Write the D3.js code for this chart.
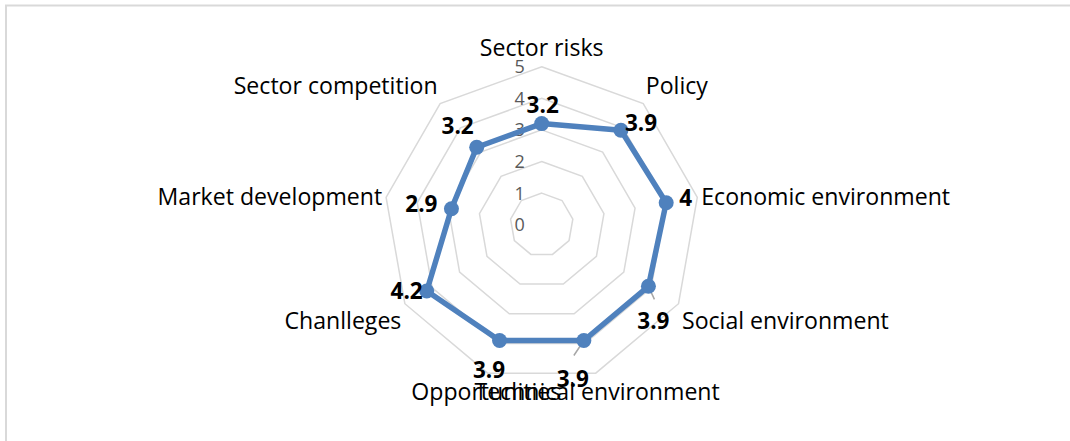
<!DOCTYPE html>
<html>
<head>
<meta charset="utf-8">
<script src="https://cdn.jsdelivr.net/npm/d3@7/dist/d3.min.js"></script>
<style>
  html, body { margin: 0; padding: 0; background: #fff; }
  svg { display: block; }
</style>
</head>
<body>
<svg id="chart" width="1070" height="441"></svg>
<script>
// ---- data ----
const categories = ["Sector risks", "Policy", "Economic environment", "Social environment",
  "Technical environment", "Opportunities", "Chanlleges", "Market development", "Sector competition"];
const values = [3.2, 3.9, 4, 3.9, 3.9, 3.9, 4.2, 2.9, 3.2];
const valueLabels = ["3.2", "3.9", "4", "3.9", "3.9", "3.9", "4.2", "2.9", "3.2"];
const tickValues = [0, 1, 2, 3, 4, 5];
const tickLabels = ["0", "1", "2", "3", "4", "5"];

// ---- layout (not data) ----
// data label placement relative to its point: [dx, dy, anchor]
const labelPlacement = [
  [1, -19, "middle"], [4, -7, "start"], [13, -5, "start"], [5, 35, "middle"],
  [-11, 38, "middle"], [-10.5, 29.5, "middle"], [-4, 0, "end"], [-14, -5, "end"], [-3, -21.5, "end"]
];
// leader lines for labels placed far from their point: [index, x1off, y1off, x2off, y2off]
const leaders = [[3, 0, 0, 6, 13], [4, 0, 0, -10, 15]];

const svg = d3.select("#chart");
const cx = 541.7, cy = 224.7, R = 158;
const font = "'Open Sans', 'Noto Sans', sans-serif";

// border (top and left edges visible)
svg.append("line").attr("x1", 5).attr("x2", 1070).attr("y1", 5.5).attr("y2", 5.5)
  .attr("stroke", "#d9d9d9").attr("stroke-width", 2);
svg.append("line").attr("x1", 6).attr("x2", 6).attr("y1", 5).attr("y2", 441)
  .attr("stroke", "#d9d9d9").attr("stroke-width", 2);

const n = categories.length;
const angle = d3.scaleLinear().domain([0, n]).range([0, 2 * Math.PI]);
const r = d3.scaleLinear().domain([0, 5]).range([0, R]);
const px = (i, v) => cx + r(v) * Math.sin(angle(i));
const py = (i, v) => cy - r(v) * Math.cos(angle(i));

const g = svg.append("g");

// rings
const ringLine = d3.line().curve(d3.curveLinearClosed);
g.selectAll("path.ring").data(tickValues.filter(t => t > 0)).join("path")
  .attr("class", "ring")
  .attr("d", t => ringLine(d3.range(n).map(i => [px(i, t), py(i, t)])))
  .attr("fill", "none").attr("stroke", "#d9d9d9").attr("stroke-width", 1.5);

// tick labels
g.selectAll("text.tick").data(tickValues).join("text")
  .attr("class", "tick")
  .attr("x", cx - 22).attr("y", t => cy - r(t))
  .attr("dy", "0.36em")
  .attr("text-anchor", "middle")
  .attr("font-family", font).attr("font-size", 18).attr("fill", "#595959")
  .text((t, i) => tickLabels[i]);

// category labels
const catR = R + 4;
g.selectAll("text.cat").data(categories).join("text")
  .attr("class", "cat")
  .each(function (d, i) {
    const a = angle(i), s = Math.sin(a), c = Math.cos(a);
    const x = cx + catR * s, y = cy - catR * c;
    let anchor = Math.abs(s) < 0.5 ? "middle" : (s > 0 ? "start" : "end");
    let yc = c > 0.5 ? y - 15 : (c < -0.3 ? y + 15 : y);
    d3.select(this).attr("x", x).attr("y", yc).attr("dy", "0.36em")
      .attr("text-anchor", anchor);
  })
  .attr("font-family", font).attr("font-size", 23.1).attr("fill", "#000")
  .text(d => d);

// data polygon
const pts = values.map((v, i) => [px(i, v), py(i, v)]);
g.append("path")
  .attr("d", ringLine(pts))
  .attr("fill", "none").attr("stroke", "#4f81bd").attr("stroke-width", 5.5)
  .attr("stroke-linejoin", "round");

// leader lines
g.selectAll("line.leader").data(leaders).join("line")
  .attr("class", "leader")
  .attr("x1", d => pts[d[0]][0] + d[1]).attr("y1", d => pts[d[0]][1] + d[2])
  .attr("x2", d => pts[d[0]][0] + d[3]).attr("y2", d => pts[d[0]][1] + d[4])
  .attr("stroke", "#a6a6a6").attr("stroke-width", 1.5);

// markers
g.selectAll("circle.pt").data(pts).join("circle")
  .attr("class", "pt")
  .attr("cx", d => d[0]).attr("cy", d => d[1]).attr("r", 7.5)
  .attr("fill", "#4f81bd");

// data labels
g.selectAll("text.val").data(values).join("text")
  .attr("class", "val")
  .attr("x", (v, i) => pts[i][0] + labelPlacement[i][0])
  .attr("y", (v, i) => pts[i][1] + labelPlacement[i][1])
  .attr("dy", "0.36em")
  .attr("text-anchor", (v, i) => labelPlacement[i][2])
  .attr("font-family", font).attr("font-size", 22.5).attr("font-weight", "bold").attr("fill", "#000")
  .text((v, i) => valueLabels[i]);
</script>
</body>
</html>
